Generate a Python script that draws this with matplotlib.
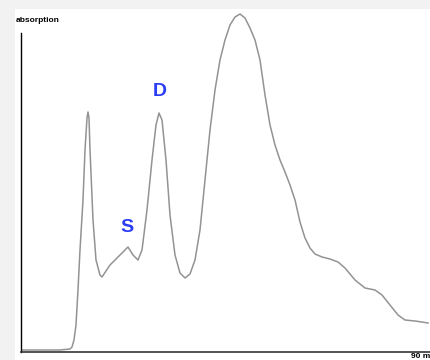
import matplotlib
matplotlib.use("Agg")
import matplotlib.pyplot as plt
from matplotlib.patches import Rectangle

# absorption trace (position along axis, height above baseline)
position = [1, 19, 39, 49, 51, 53, 55, 57, 59, 62,
            64, 66, 67, 68, 69, 72, 75, 79, 81, 89,
            99, 107, 112, 117, 121, 126, 131, 135, 138, 141,
            145, 149, 154, 159, 164, 169, 174, 179, 184, 189,
            194, 199, 204, 209, 214, 219, 224, 229, 234, 239,
            244, 249, 254, 259, 264, 269, 274, 279, 284, 289,
            294, 301, 309, 317, 324, 334, 344, 354, 361, 369,
            377, 384, 394, 407]
absorption = [2, 2, 2, 3, 5, 12, 27, 62, 102, 152,
              202, 234, 240, 234, 202, 132, 92, 77, 75, 87,
              97, 105, 97, 92, 102, 142, 192, 227, 239, 232,
              192, 137, 97, 79, 74, 78, 92, 122, 172, 222,
              262, 292, 312, 327, 335, 338, 334, 324, 312, 292,
              257, 227, 207, 192, 180, 167, 152, 130, 114, 104,
              98, 95, 93, 90, 84, 72, 64, 62, 57, 47,
              37, 32, 31, 29]
x_label = "90 m"
y_label = "absorption"
peak_names = ["S", "D"]
peak_x = [106, 139]
peak_y = [125, 260]

fig = plt.figure(figsize=(4.3, 3.6), dpi=100)
fig.patch.set_facecolor("#f2f2f2")
fig.patches.append(Rectangle((15 / 430, 0), 1, 351 / 360, transform=fig.transFigure,
                             facecolor="white", edgecolor="none", zorder=-5))

ax = fig.add_axes([21 / 430, 8 / 360, 409 / 430, 343 / 360])
ax.set_facecolor("none")
ax.set_zorder(2)
ax.plot(position, absorption, color="#939393", lw=1.1, solid_joinstyle="round")
ax.set_xlim(0, 409)
ax.set_ylim(0, 343)
ax.spines["top"].set_visible(False)
ax.spines["right"].set_visible(False)
ax.spines["left"].set_bounds(0, 319)
ax.spines["left"].set_linewidth(1.0)
ax.spines["bottom"].set_linewidth(1.2)
ax.spines["bottom"].set_color("#333333")
ax.set_xticks([])
ax.set_yticks([])

for name, px, py in zip(peak_names, peak_x, peak_y):
    ax.text(px, py, name, color="#2b3cf5", fontsize=14, fontweight="bold",
            family="Liberation Sans", ha="center", va="center")

fig.text(16 / 430, 1 - 20 / 360, y_label, fontsize=6, fontweight="bold",
         family="Liberation Sans", ha="left", va="center")
fig.text(411 / 430, 1 - 353 / 360, x_label, fontsize=6, fontweight="bold",
         family="Liberation Sans", ha="left", va="top")

fig.savefig("out.png", dpi=100, facecolor=fig.get_facecolor())
